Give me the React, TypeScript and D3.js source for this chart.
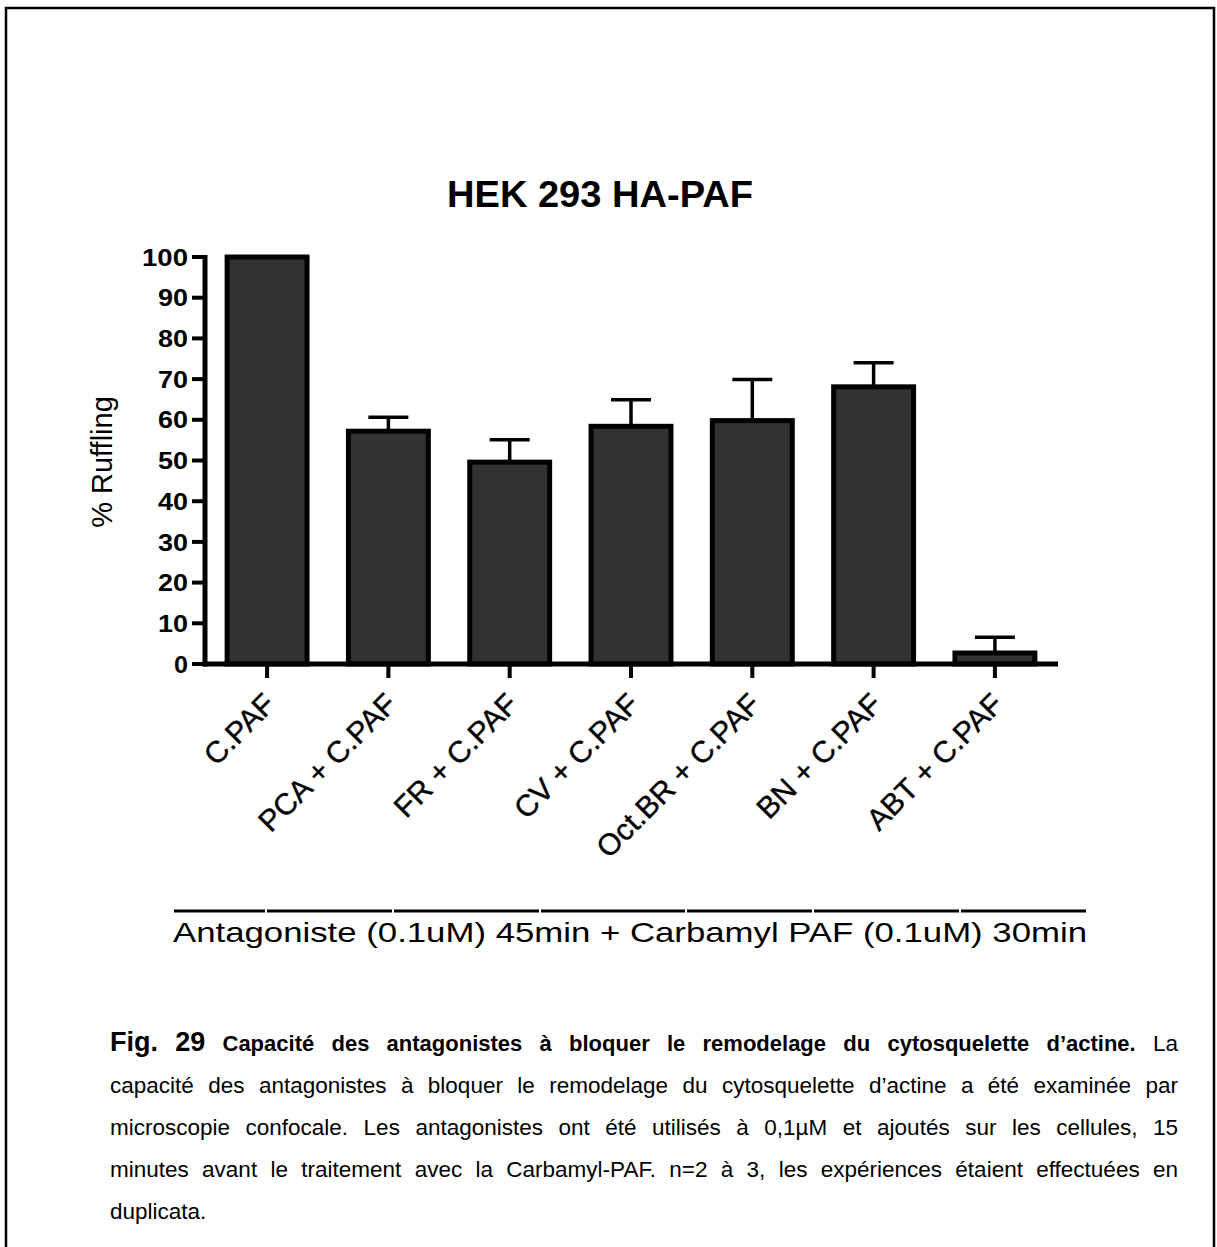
import React from 'react';
import * as d3 from 'd3';

// valeurs
const categories = ["C.PAF", "PCA + C.PAF", "FR + C.PAF", "CV + C.PAF", "Oct.BR + C.PAF", "BN + C.PAF", "ABT + C.PAF"];
const ruffling = [100, 57.2, 49.6, 58.4, 59.8, 68.1, 2.7];
const sem = [0, 3.4, 5.5, 6.5, 10.1, 5.9, 3.9];
const yTickValues = [0, 10, 20, 30, 40, 50, 60, 70, 80, 90, 100];

const title = "HEK 293 HA-PAF";
const yLabel = "% Ruffling";
const groupLabel = "Antagoniste (0.1uM) 45min + Carbamyl PAF (0.1uM) 30min";

const captionHead = "Fig. 29";
const captionBold = "Capacité des antagonistes à bloquer le remodelage du cytosquelette d’actine.";
const captionLines = [
  "La",
  "capacité des antagonistes à bloquer le remodelage du cytosquelette d’actine a été examinée par",
  "microscopie confocale. Les antagonistes ont été utilisés à 0,1µM et ajoutés sur les cellules, 15",
  "minutes avant le traitement avec la Carbamyl-PAF. n=2 à 3, les expériences étaient effectuées en",
  "duplicata."
];

const FONT = '"Liberation Sans", Arial, Helvetica, sans-serif';

// mise en page
const W = 1217, H = 1247;
const axisX = 205, axisRight = 1058;
const y0 = 664, y100 = 257;
const groupLine = [173, 266, 393, 540, 686, 813, 960, 1087];
const capLeft = 110, capRight = 1178;
const capBase = [1051, 1093, 1135, 1177, 1219];

let ctx: CanvasRenderingContext2D | null = null;
const measure = (txt: string, font: string) => {
  if (!ctx) ctx = document.createElement('canvas').getContext('2d');
  ctx!.font = font;
  return ctx!.measureText(txt).width;
};

type Word = { t: string; weight: string; size: number };

// justification simple : espaces répartis entre les mots
const justify = (words: Word[], x0: number, x1: number, full: boolean) => {
  const widths = words.map(w => measure(w.t, `${w.weight} ${w.size}px ${FONT}`));
  const total = d3.sum(widths);
  const gap = full && words.length > 1 ? (x1 - x0 - total) / (words.length - 1) : measure(' ', `normal 22px ${FONT}`);
  let x = x0;
  return words.map((w, i) => {
    const pos = x;
    x += widths[i] + gap;
    return { ...w, x: pos };
  });
};

const toWords = (s: string, weight: string, size: number): Word[] =>
  s.split(' ').filter(d => d.length).map(t => ({ t, weight, size }));

export default function App() {
  const x = d3.scaleBand<string>()
    .domain(categories)
    .range([axisX - 1, axisRight])
    .paddingInner(0.3)
    .paddingOuter(0.17);
  const y = d3.scaleLinear().domain([0, 100]).range([y0, y100]);
  const bw = x.bandwidth();
  const sw = 5;

  const line1 = [
    ...toWords(captionHead, 'bold', 27),
    ...toWords(captionBold, 'bold', 22),
    ...toWords(captionLines[0], 'normal', 22.5)
  ];
  const capRows = [
    justify(line1, capLeft, capRight, true),
    ...captionLines.slice(1).map((l, i) =>
      justify(toWords(l, 'normal', 22.5), capLeft, capRight, i < captionLines.length - 2))
  ];

  return (
    <svg width={W} height={H} style={{ position: 'absolute', left: 0, top: 0, display: 'block', background: '#fff' }}
      fontFamily={FONT}>
      {/* cadre */}
      <path d={`M6,${H} V8 H1214 V${H}`} fill="none" stroke="#000" strokeWidth={2.5} />

      <text x={600} y={207} textAnchor="middle" fontSize={36} fontWeight="bold" textLength={306} lengthAdjust="spacingAndGlyphs">{title}</text>

      {/* barres */}
      {categories.map((c, i) => (
        <rect key={c} x={x(c)! + sw / 2} y={y(ruffling[i])} width={bw - sw} height={y0 - y(ruffling[i])}
          fill="#323232" stroke="#000" strokeWidth={sw} />
      ))}

      {/* barres d'erreur */}
      {categories.map((c, i) => {
        if (!sem[i]) return null;
        const cx = x(c)! + bw / 2;
        const top = y(ruffling[i] + sem[i]);
        return (
          <g key={c} stroke="#000" strokeWidth={3.5}>
            <line x1={cx} x2={cx} y1={y(ruffling[i])} y2={top} />
            <line x1={cx - 20} x2={cx + 20} y1={top} y2={top} />
          </g>
        );
      })}

      {/* axe y */}
      <line x1={axisX} x2={axisX} y1={y100 - 2} y2={y0 + 2.5} stroke="#000" strokeWidth={sw} />
      {yTickValues.map(v => (
        <g key={v}>
          <line x1={axisX - 13} x2={axisX} y1={y(v)} y2={y(v)} stroke="#000" strokeWidth={4} />
          <text x={188} y={y(v)} dy="0.36em" textAnchor="end" fontSize={24} fontWeight="bold"
            textLength={String(v).length * 16 - 2} lengthAdjust="spacingAndGlyphs">{v}</text>
        </g>
      ))}
      <text transform={`translate(112,462) rotate(-90)`} textAnchor="middle" fontSize={29}>{yLabel}</text>

      {/* axe x */}
      <line x1={axisX - 2.5} x2={axisRight} y1={y0} y2={y0} stroke="#000" strokeWidth={sw} />
      {categories.map(c => {
        const cx = x(c)! + bw / 2;
        return (
          <g key={c}>
            <line x1={cx} x2={cx} y1={y0} y2={y0 + 14} stroke="#000" strokeWidth={4} />
            <text transform={`translate(${cx + 10},${y0 + 42}) rotate(-45)`} textAnchor="end" fontSize={30}
              stroke="#000" strokeWidth={0.4}>{c}</text>
          </g>
        );
      })}

      {/* trait du groupe + légende */}
      {groupLine.slice(0, -1).map((a, i) => (
        <line key={i} x1={a + 1} x2={groupLine[i + 1] - 1} y1={911} y2={911} stroke="#000" strokeWidth={3} />
      ))}
      <text x={173} y={942} fontSize={28} textLength={914} lengthAdjust="spacingAndGlyphs">{groupLabel}</text>

      {/* légende de la figure */}
      {capRows.map((row, r) => row.map((w, i) => (
        <text key={`${r}-${i}`} x={w.x} y={capBase[r]} fontSize={w.size} fontWeight={w.weight}>{w.t}</text>
      )))}
    </svg>
  );
}
